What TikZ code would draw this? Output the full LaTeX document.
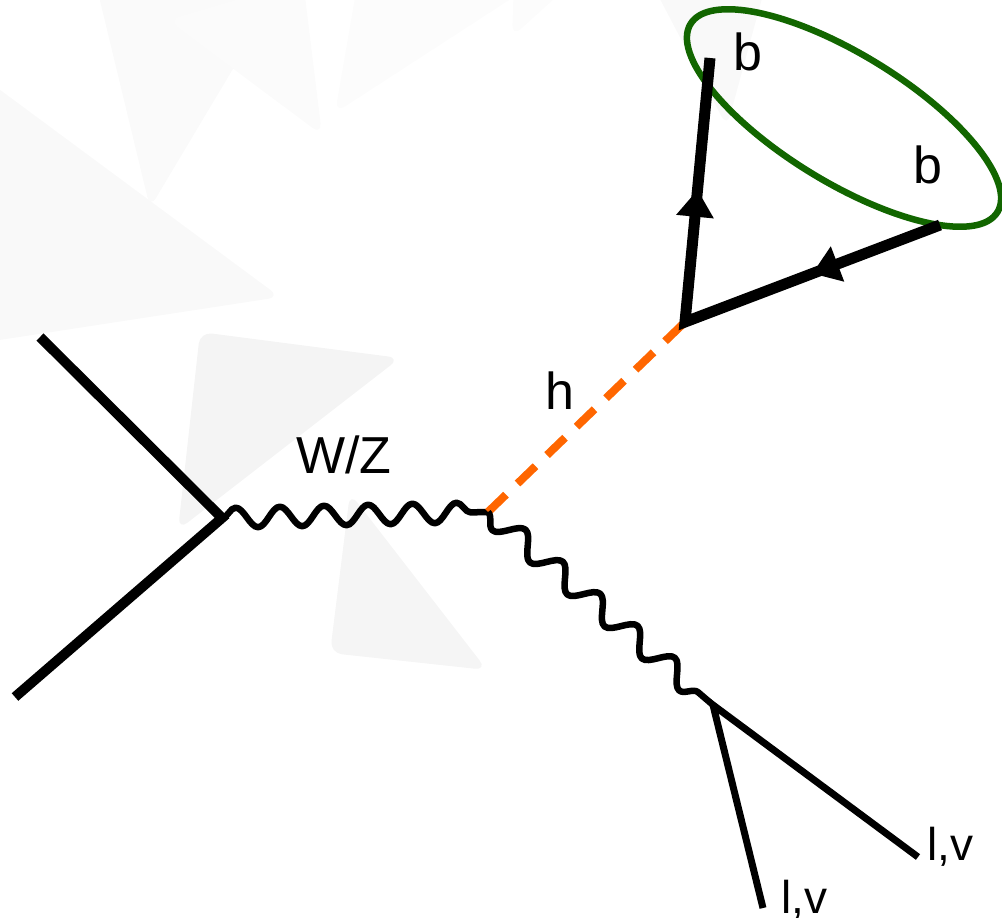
\documentclass[tikz,border=0pt]{standalone}
\usepackage{fontspec}
\setmainfont{Liberation Sans}
\usetikzlibrary{arrows.meta,shapes.geometric,decorations.pathmorphing,decorations.markings}

\definecolor{higgsorange}{RGB}{255,102,0}
\definecolor{jetgreen}{RGB}{18,102,0}

\begin{document}
\begin{tikzpicture}[
  x=1pt, y=-1pt,
  bgtri/.style={rounded corners=12pt},
  quark/.style={line width=10pt, line join=miter},
  fermion/.style={line width=11pt, line join=miter, postaction={decorate},
    decoration={markings,
      mark=at position 0.254 with {\arrow{Triangle[length=27pt, width=36pt]}},
      mark=at position 0.754 with {\arrow{Triangle[length=27pt, width=36pt]}}}},
  boson/.style={line width=6.5pt, line join=round, decorate,
    decoration={snake, amplitude=10pt, segment length=44.2pt}},
  scalar/.style={higgsorange, line width=8pt, dash pattern=on 25pt off 16pt},
  lepton/.style={line width=7pt},
  jet/.style={draw=jetgreen, line width=6.5pt, ellipse, inner sep=0pt},
  lbl/.style={font=\fontsize{52}{60}\selectfont, inner sep=0pt, anchor=base},
  lbls/.style={font=\fontsize{46}{54}\selectfont, inner sep=0pt, anchor=base},
]
\clip (0,0) rectangle (1002,918);

% === faint background shapes ===
\fill[bgtri, black!2.5] (-20,75) -- (280,297) -- (-20,343) -- cycle;
\fill[bgtri, black!2]   (95,-20) -- (286,-20) -- (150,208) -- cycle;
\fill[bgtri, black!1.5] (168,20) -- (303,-20) -- (322,135) -- cycle;
\fill[bgtri, black!1.2] (358,-20) -- (335,113) -- (540,-20) -- cycle;
\fill[bgtri, black!1.2] (512,37) -- (514,-20) -- (575,-20) -- cycle;
\fill[bgtri, black!2.5] (650,-20) -- (767,-20) -- (727,127) -- cycle;
\fill[bgtri, black!4.5] (200,332) -- (400,358) -- (178,530) -- cycle;
\fill[bgtri, black!4]   (350,493) -- (487,670) -- (330,653) -- cycle;

% === vertices and external legs ===
\coordinate (qin) at (40,337);
\coordinate (qbarin) at (15,697);
\coordinate (vprod) at (222,518);
\coordinate (vhs) at (488,512);
\coordinate (vhbb) at (685,322);
\coordinate (bout) at (710,58);
\coordinate (bbarout) at (940,225);
\coordinate (vlep) at (713,705);
\coordinate (lepa) at (918,857);
\coordinate (lepb) at (763,908);

% === b-bbar jet ===
\node[jet, minimum width=360pt, minimum height=128pt, rotate=-31.5] (bbjet) at (844,118) {};

% === lines ===
\draw[quark] (qin) -- (vprod) -- (qbarin);
\draw[boson] (vprod) -- (vhs);
\draw[scalar] (vhs) -- (vhbb);
\draw[fermion] (bbarout) -- (vhbb) -- (bout);
\draw[boson, decoration={segment length=49.2pt, amplitude=11pt, mirror}] (vhs) -- (vlep);
\draw[lepton] (lepa) -- (vlep) -- (lepb);

% === labels ===
\node[lbl] (wzlbl) at (344,473) {W/Z};
\node[lbl] (hlbl) at (560,409) {h};
\node[lbl] (blbl) at (748,70) {b};
\node[lbl] (bbarlbl) at (928,183) {b};
\node[lbls] (lepalbl) at (950,860) {l,v};
\node[lbls] (lepblbl) at (804,913) {l,v};

\end{tikzpicture}
\end{document}
